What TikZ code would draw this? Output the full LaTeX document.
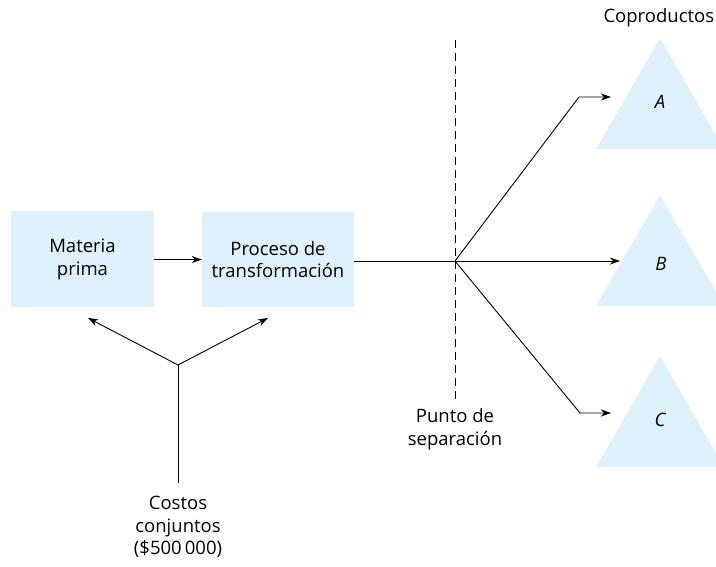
\documentclass[tikz,border=0pt]{standalone}
\usepackage{fontspec}
\setmainfont{Open Sans}
\usetikzlibrary{arrows.meta}
\definecolor{celeste}{RGB}{223,242,251}
\begin{document}
\begin{tikzpicture}[x=1pt, y=-1pt, font=\fontsize{18.5}{22.5}\selectfont, line join=round, >={Stealth[length=10pt,width=7pt,inset=3pt]},
	caja/.style={fill=celeste, align=center, inner sep=0pt},
	flecha/.style={->, line width=.9pt}]
	\path[use as bounding box](0,0)rectangle(716,567);
	\clip(0,0)rectangle(716,567);
	% cajas
	\node[caja, minimum width=143pt, minimum height=96pt](mp) at (82.5,259.5){Materia\\prima};
	\node[caja, minimum width=152pt, minimum height=95pt](pt) at (278,259.5){Proceso de\\transformación};
	\draw[flecha](mp.east)--(pt.west);
	% triangulos
	\foreach \n/\y in {A/38,B/195,C/356}
		\fill[celeste](660,\y)--(724,\y+111)--(596,\y+111)--cycle;
	\node[font=\fontsize{18.5}{22.5}\selectfont\itshape](A) at (660,102){A};
	\node[font=\fontsize{18.5}{22.5}\selectfont\itshape](B) at (661,264){B};
	\node[font=\fontsize{18.5}{22.5}\selectfont\itshape](C) at (660,420){C};
	\node[anchor=west](cop) at (600,18){Coproductos};
	% punto de separacion
	\coordinate(sp) at (455,261);
	\coordinate(st) at (455,40);
	\coordinate(sb) at (455,400);
	\draw[dash pattern=on 8pt off 5pt, line width=.8pt](st)--(sb);
	\node[align=center](ps) at (455,429){Punto de\\separación};
	\coordinate(ka) at (579,97);
	\coordinate(kc) at (580,413);
	\coordinate(ta) at (611,97);
	\coordinate(tb) at (620,261);
	\coordinate(tc) at (611,413);
	\draw[line width=.9pt](pt.east|-sp)--(sp);
	\draw[flecha](sp)--(ka)--(ta);
	\draw[flecha](sp)--(tb);
	\draw[flecha](sp)--(kc)--(tc);
	% costos conjuntos
	\coordinate(yj) at (178,365);
	\coordinate(yb) at (178,483);
	\coordinate(yl) at (88,318);
	\coordinate(yr) at (268,318);
	\draw[line width=.9pt](yb)--(yj);
	\draw[flecha](yj)--(yl);
	\draw[flecha](yj)--(yr);
	\node[align=center](cc) at (178,527){Costos\\conjuntos\\(\$500\,000)};
\end{tikzpicture}
\end{document}
